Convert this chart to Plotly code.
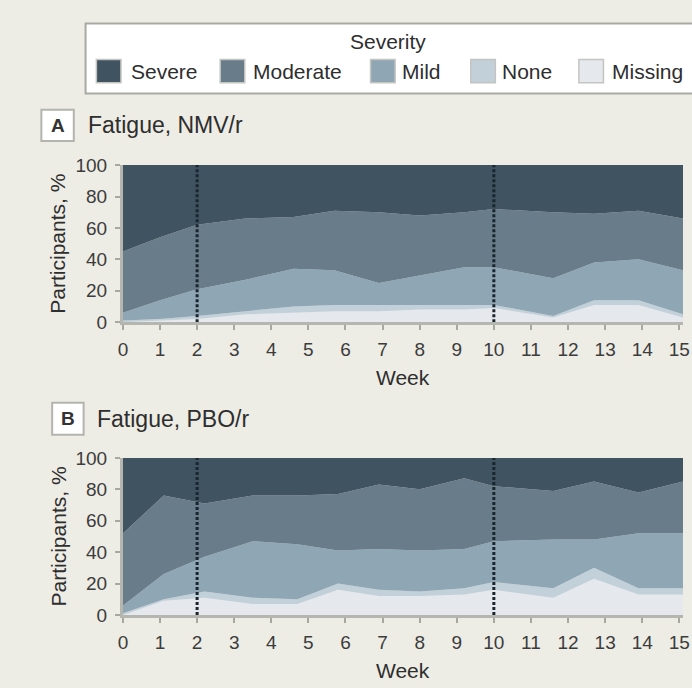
import plotly.graph_objects as go

# ---------------- data ----------------
severity_levels = ["Missing", "None", "Mild", "Moderate", "Severe"]
legend_order = ["Severe", "Moderate", "Mild", "None", "Missing"]
colors = {
    "Severe": "#3f5361",
    "Moderate": "#687c89",
    "Mild": "#8fa6b4",
    "None": "#c2d0da",
    "Missing": "#e5e8ed",
}

weeks_a = [0, 1, 2, 3.3, 4.6, 5.7, 6.9, 8, 9.2, 10, 11.6, 12.7, 13.9, 15.1]
a_missing = [0, 1, 2, 5, 6, 7, 7, 8, 8, 9, 3, 11, 11, 3]
a_none = [1, 1, 2, 2, 4, 4, 4, 3, 3, 2, 1, 3, 3, 2]
a_mild = [5, 12, 17, 20, 24, 22, 14, 19, 24, 24, 24, 24, 26, 28]
a_moderate = [39, 40, 41, 39, 33, 38, 45, 38, 35, 37, 42, 31, 31, 33]
a_severe = [55, 46, 38, 34, 33, 29, 30, 32, 30, 28, 30, 31, 29, 34]

weeks_b = [0, 1.1, 2.2, 3.5, 4.7, 5.8, 6.9, 8, 9.2, 10, 11.6, 12.7, 13.9, 15.1]
b_missing = [0, 9, 11, 7, 7, 16, 12, 12, 13, 16, 11, 23, 13, 13]
b_none = [1, 1, 4, 4, 3, 4, 4, 3, 4, 5, 6, 7, 4, 4]
b_mild = [5, 16, 22, 36, 35, 21, 26, 26, 25, 26, 31, 18, 35, 35]
b_moderate = [46, 50, 34, 29, 31, 36, 41, 39, 45, 35, 31, 37, 26, 33]
b_severe = [48, 24, 29, 24, 24, 23, 17, 20, 13, 18, 21, 15, 22, 15]

x_ticks = list(range(0, 16))
y_ticks = [0, 20, 40, 60, 80, 100]
marker_weeks = [2, 10]

panel_a_title = "Fatigue, NMV/r"
panel_b_title = "Fatigue, PBO/r"

# ---------------- layout helpers ----------------
W, H = 692, 688
FONT = "Liberation Sans, Arial, sans-serif"
BG = "#edece5"
TXT = "#2e2e2e"


def fx(p):
    return p / W


def fy(p):
    return 1 - p / H


fig = go.Figure()

panels = [
    ("x", "y", weeks_a, {"Missing": a_missing, "None": a_none, "Mild": a_mild,
                         "Moderate": a_moderate, "Severe": a_severe}),
    ("x2", "y2", weeks_b, {"Missing": b_missing, "None": b_none, "Mild": b_mild,
                           "Moderate": b_moderate, "Severe": b_severe}),
]

for xa, ya, wk, series in panels:
    for lvl in severity_levels:
        fig.add_trace(go.Scatter(
            x=wk, y=series[lvl], xaxis=xa, yaxis=ya,
            mode="lines", line=dict(width=0, color=colors[lvl]),
            fillcolor=colors[lvl], stackgroup="s" + xa, name=lvl,
            showlegend=False, hoverinfo="skip",
        ))
    for m in marker_weeks:
        fig.add_trace(go.Scatter(
            x=[m, m], y=[0, 100], xaxis=xa, yaxis=ya, mode="lines",
            line=dict(color="#1b252d", width=3, dash="3px,2px"),
            showlegend=False, hoverinfo="skip",
        ))

x_dom = [fx(120), fx(690)]
a_top, a_bot = 160, 322
b_top, b_bot = 462, 624

common_x = dict(
    range=[0, 15.1], tickvals=x_ticks, ticks="outside", ticklen=5, tickwidth=2,
    tickcolor="#a8a8a2", showline=True, linecolor="#b6b6b0", linewidth=3,
    showgrid=False, zeroline=False, tickfont=dict(size=19, color="#3c3c3c", family=FONT),
    ticklabeloverflow="allow", ticklabelstandoff=3, fixedrange=True,
)
common_y = dict(
    range=[0, 100], tickvals=y_ticks, ticks="outside", ticklen=5, tickwidth=2,
    tickcolor="#a8a8a2", showline=True, linecolor="#b6b6b0", linewidth=3,
    showgrid=False, zeroline=False, tickfont=dict(size=19, color="#3c3c3c", family=FONT),
    ticklabelstandoff=4, fixedrange=True,
)

fig.update_layout(
    width=W, height=H,
    margin=dict(l=0, r=0, t=0, b=0),
    paper_bgcolor=BG, plot_bgcolor=BG,
    font=dict(family=FONT, color=TXT),
    xaxis=dict(domain=x_dom, anchor="y", **common_x),
    yaxis=dict(domain=[fy(a_bot), fy(a_top)], anchor="x", **common_y),
    xaxis2=dict(domain=x_dom, anchor="y2", **common_x),
    yaxis2=dict(domain=[fy(b_bot), fy(b_top)], anchor="x2", **common_y),
    showlegend=False,
)

shapes = []
annotations = []

# legend box
shapes.append(dict(type="rect", xref="paper", yref="paper",
                   x0=fx(82), x1=fx(720), y0=fy(86), y1=fy(14),
                   fillcolor="white", line=dict(color="#a9a9a3", width=2), layer="above"))
annotations.append(dict(text="Severity", x=fx(390), y=fy(33), xref="paper", yref="paper",
                        showarrow=False, xanchor="center", yanchor="middle",
                        font=dict(size=21, color=TXT, family=FONT)))
sw_x = [93, 219, 372, 474, 584]
tx_x = [126, 250, 402, 504, 616]
for lvl, sx, tx in zip(legend_order, sw_x, tx_x):
    shapes.append(dict(type="rect", xref="paper", yref="paper",
                       x0=fx(sx), x1=fx(sx + 25), y0=fy(75), y1=fy(51),
                       fillcolor=colors[lvl], line=dict(color="#c4c4c0", width=1.5), layer="above"))
    annotations.append(dict(text=lvl, x=fx(tx), y=fy(63), xref="paper", yref="paper",
                            showarrow=False, xanchor="left", yanchor="middle",
                            font=dict(size=21, color=TXT, family=FONT)))

# panel labels
for letter, bx0, bx1, by0, by1, title, tx, ty in [
    ("A", 37, 70, 103, 135, panel_a_title, 82, 119),
    ("B", 48, 80, 405, 438, panel_b_title, 92, 422),
]:
    shapes.append(dict(type="rect", xref="paper", yref="paper",
                       x0=fx(bx0), x1=fx(bx1), y0=fy(by1), y1=fy(by0),
                       fillcolor="white", line=dict(color="#b4b4ae", width=2), layer="above"))
    annotations.append(dict(text="<b>" + letter + "</b>", x=fx((bx0 + bx1) / 2), y=fy((by0 + by1) / 2),
                            xref="paper", yref="paper", showarrow=False,
                            xanchor="center", yanchor="middle",
                            font=dict(size=19, color="#333333", family=FONT)))
    annotations.append(dict(text=title, x=fx(tx), y=fy(ty), xref="paper", yref="paper",
                            showarrow=False, xanchor="left", yanchor="middle",
                            font=dict(size=23, color=TXT, family=FONT)))

# axis titles
for top, bot in [(a_top, a_bot), (b_top, b_bot)]:
    annotations.append(dict(text="Participants, %", x=fx(54), y=fy((top + bot) / 2),
                            xref="paper", yref="paper", showarrow=False, textangle=-90,
                            xanchor="center", yanchor="middle",
                            font=dict(size=21, color=TXT, family=FONT)))
    annotations.append(dict(text="Week", x=fx(405), y=fy(bot + 57), xref="paper", yref="paper",
                            showarrow=False, xanchor="center", yanchor="middle",
                            font=dict(size=21, color=TXT, family=FONT)))

fig.update_layout(shapes=shapes, annotations=annotations)

fig.write_html("out.html")
